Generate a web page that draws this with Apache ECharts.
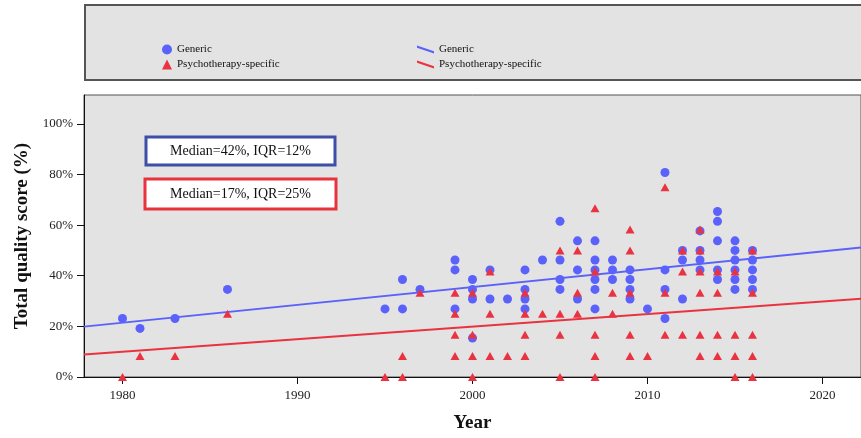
<!DOCTYPE html>
<html>
<head>
<meta charset="utf-8">
<script src="https://cdn.jsdelivr.net/npm/echarts@6/dist/echarts.min.js"></script>
<style>
  html, body { margin: 0; padding: 0; background: #fff; }
  #box { width: 861px; height: 438px; }
</style>
</head>
<body>
<div id="box"></div>
<script>
var chart = echarts.init(document.getElementById('box'));

var BLUE = '#5b62fb';
var RED = '#ea3340';
var FONT = 'Liberation Serif';

// year, total quality score (%)
var genericPoints = [
  [1980, 23.1], [1981, 19.2], [1983, 23.1], [1986, 34.6],
  [1995, 26.9], [1996, 38.5], [1996, 26.9], [1997, 34.6],
  [1999, 46.2], [1999, 42.3], [1999, 26.9],
  [2000, 38.5], [2000, 34.6], [2000, 30.8], [2000, 15.4],
  [2001, 42.3], [2001, 30.8], [2002, 30.8],
  [2003, 42.3], [2003, 34.6], [2003, 30.8], [2003, 26.9],
  [2004, 46.2],
  [2005, 61.5], [2005, 46.2], [2005, 38.5], [2005, 34.6],
  [2006, 53.8], [2006, 42.3], [2006, 30.8],
  [2007, 53.8], [2007, 46.2], [2007, 42.3], [2007, 38.5], [2007, 34.6], [2007, 26.9],
  [2008, 46.2], [2008, 42.3], [2008, 38.5],
  [2009, 42.3], [2009, 38.5], [2009, 34.6], [2009, 30.8],
  [2010, 26.9],
  [2011, 80.8], [2011, 42.3], [2011, 34.6], [2011, 23.1],
  [2012, 50], [2012, 46.2], [2012, 30.8],
  [2013, 57.7], [2013, 50], [2013, 46.2], [2013, 42.3],
  [2014, 65.4], [2014, 61.5], [2014, 53.8], [2014, 42.3], [2014, 38.5],
  [2015, 53.8], [2015, 50], [2015, 46.2], [2015, 42.3], [2015, 38.5], [2015, 34.6],
  [2016, 50], [2016, 46.2], [2016, 42.3], [2016, 38.5], [2016, 34.6]
];

var psychoPoints = [
  [1980, 0], [1981, 8.3], [1983, 8.3], [1986, 25],
  [1995, 0], [1996, 8.3], [1996, 0], [1997, 33.3],
  [1999, 33.3], [1999, 25], [1999, 16.7], [1999, 8.3],
  [2000, 33.3], [2000, 16.7], [2000, 8.3], [2000, 0],
  [2001, 41.7], [2001, 25], [2001, 8.3], [2002, 8.3],
  [2003, 33.3], [2003, 25], [2003, 16.7], [2003, 8.3],
  [2004, 25],
  [2005, 50], [2005, 25], [2005, 16.7], [2005, 0],
  [2006, 50], [2006, 33.3], [2006, 25],
  [2007, 66.7], [2007, 41.7], [2007, 16.7], [2007, 8.3], [2007, 0],
  [2008, 33.3], [2008, 25],
  [2009, 58.3], [2009, 50], [2009, 33.3], [2009, 16.7], [2009, 8.3],
  [2010, 8.3],
  [2011, 75], [2011, 33.3], [2011, 16.7],
  [2012, 50], [2012, 41.7], [2012, 16.7],
  [2013, 58.3], [2013, 50], [2013, 41.7], [2013, 33.3], [2013, 16.7], [2013, 8.3],
  [2014, 41.7], [2014, 33.3], [2014, 16.7], [2014, 8.3],
  [2015, 41.7], [2015, 16.7], [2015, 8.3], [2015, 0],
  [2016, 50], [2016, 33.3], [2016, 16.7], [2016, 8.3], [2016, 0]
];

// fit line end points
var genericFit = [[1977.8, 19.9], [2022.2, 51.2]];
var psychoFit = [[1977.8, 8.9], [2022.2, 30.9]];

var yearTicks = [1980, 1990, 2000, 2010, 2020];
var scoreTicks = [0, 20, 40, 60, 80, 100];

var seriesNames = ['Generic', 'Psychotherapy-specific'];
var fitNames = ['Generic fit', 'Psychotherapy-specific fit'];

var lineIcon = 'path://M0,0 L0,2.2 L17,8 L17,5.8 Z';

option = {
  animation: false,
  textStyle: { fontFamily: FONT },
  graphic: [
    {
      type: 'rect', z: 0,
      shape: { x: 85, y: 5, width: 790, height: 75 },
      style: { fill: '#e3e3e3', stroke: '#555', lineWidth: 2 }
    },
    {
      type: 'group', z: 10,
      children: [
        {
          type: 'rect',
          shape: { x: 146, y: 137, width: 189, height: 28 },
          style: { fill: '#fff', stroke: '#3d4fa8', lineWidth: 3 }
        },
        {
          type: 'text', x: 240.5, y: 151,
          style: { text: 'Median=42%, IQR=12%', font: '14px "Liberation Serif"', fill: '#111', align: 'center', verticalAlign: 'middle' }
        },
        {
          type: 'rect',
          shape: { x: 145, y: 179, width: 191, height: 30 },
          style: { fill: '#fff', stroke: '#e8333d', lineWidth: 3 }
        },
        {
          type: 'text', x: 240.5, y: 194,
          style: { text: 'Median=17%, IQR=25%', font: '14px "Liberation Serif"', fill: '#111', align: 'center', verticalAlign: 'middle' }
        }
      ]
    }
  ],
  legend: [
    {
      data: seriesNames,
      orient: 'vertical',
      left: 157, top: 39,
      itemWidth: 10, itemHeight: 10, itemGap: 4,
      textStyle: { fontFamily: FONT, fontSize: 11, color: '#111' }
    },
    {
      data: fitNames,
      orient: 'vertical',
      left: 412, top: 39,
      icon: lineIcon,
      itemWidth: 17, itemHeight: 10, itemGap: 4,
      formatter: function (name) { return name.replace(' fit', ''); },
      textStyle: { fontFamily: FONT, fontSize: 11, color: '#111' }
    }
  ],
  grid: {
    left: 84, top: 95, right: -5, bottom: 60,
    show: true,
    backgroundColor: '#e3e3e3',
    borderColor: '#555',
    borderWidth: 1
  },
  xAxis: {
    type: 'value',
    min: 1977.8, max: 2022.2,
    name: 'Year',
    nameLocation: 'middle',
    nameGap: 37,
    nameTextStyle: { fontFamily: FONT, fontSize: 19, fontWeight: 'bold', color: '#111' },
    axisLine: { lineStyle: { color: '#111' } },
    axisTick: { customValues: yearTicks, length: 7, lineStyle: { color: '#111' } },
    axisLabel: {
      customValues: yearTicks, margin: 12, fontFamily: FONT, fontSize: 13, color: '#222',
      formatter: function (v) { return String(v); }
    },
    splitLine: { show: false }
  },
  yAxis: {
    type: 'value',
    min: 0, max: 111.4,
    name: 'Total quality score (%)',
    nameLocation: 'middle',
    nameGap: 52,
    nameTextStyle: { fontFamily: FONT, fontSize: 19, fontWeight: 'bold', color: '#111' },
    axisLine: { show: true, lineStyle: { color: '#111' } },
    axisTick: { show: true, customValues: scoreTicks, length: 7, lineStyle: { color: '#111' } },
    axisLabel: {
      customValues: scoreTicks, margin: 11, fontFamily: FONT, fontSize: 13, color: '#222',
      formatter: function (v) { return v + '%'; }
    },
    splitLine: { show: false }
  },
  series: [
    {
      name: fitNames[0], type: 'line', data: genericFit,
      color: BLUE, symbol: 'none', lineStyle: { color: BLUE, width: 2 }, z: 2
    },
    {
      name: fitNames[1], type: 'line', data: psychoFit,
      color: RED, symbol: 'none', lineStyle: { color: RED, width: 2 }, z: 2
    },
    {
      name: seriesNames[0], type: 'scatter', data: genericPoints,
      symbol: 'circle', symbolSize: 9, itemStyle: { color: BLUE, opacity: 1 }, z: 3
    },
    {
      name: seriesNames[1], type: 'scatter', data: psychoPoints,
      symbol: 'triangle', symbolSize: [9, 8], itemStyle: { color: RED, opacity: 1 }, z: 4
    }
  ]
};

chart.setOption(option);
</script>
</body>
</html>
